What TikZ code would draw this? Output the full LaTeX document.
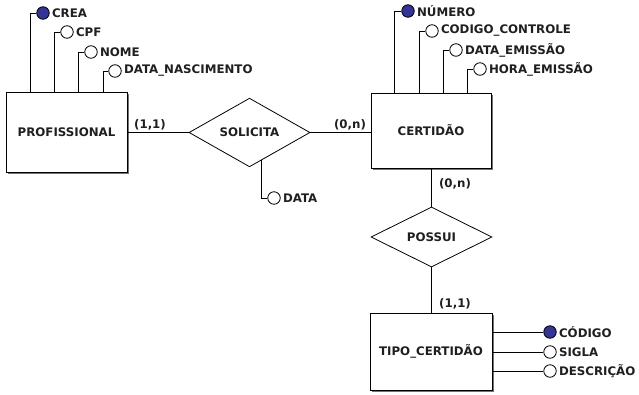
\documentclass[tikz,border=0pt]{standalone}
\usepackage{fontspec}
\setmainfont{DejaVu Sans}
\usepackage{tikz}
\usetikzlibrary{positioning,calc,shapes.geometric,shadows}

\begin{document}
\begin{tikzpicture}[x=1pt,y=-1pt,font=\fontsize{11.8}{13}\selectfont\bfseries,
 entity/.style={draw,fill=white,line width=0.9pt,inner sep=2pt,
   drop shadow={shadow xshift=1.6pt,shadow yshift=-1.6pt,opacity=1,fill=black!55}},
 rel/.style={draw,diamond,fill=white,line width=0.8pt,inner sep=0pt,minimum width=121pt,minimum height=61pt},
 attr/.style={draw,circle,fill=white,line width=0.8pt,inner sep=0pt,minimum size=12.5pt},
 key/.style={attr,fill=keyblue},
 lbl/.style={inner sep=2pt,text=black!88},
 card/.style={inner sep=1pt,text=black!88},
 every path/.style={line width=0.8pt}]
\definecolor{keyblue}{RGB}{52,52,150}
\useasboundingbox (0,0) rectangle (639,394);
% entities and relationships
\node[entity,minimum width=121pt,minimum height=80pt,text=black!88] (prof) at (66.5,132) {PROFISSIONAL};
\node[entity,minimum width=120pt,minimum height=75pt,text=black!88] (cert) at (431,130.5) {CERTIDÃO};
\node[entity,minimum width=122pt,minimum height=77pt,text=black!88] (tipo) at (431,351.5) {TIPO\_CERTIDÃO};
\node[rel,text=black!88] (soli) at (249.5,132.5) {SOLICITA};
\node[rel,minimum height=60pt,text=black!88] (poss) at (431.5,237) {POSSUI};
% attributes of PROFISSIONAL
\node[key] (crea) at (43,13) {};
\node[lbl,right=0pt of crea] (creaT) {CREA};
\node[attr] (cpf) at (67,32) {};
\node[lbl,right=0pt of cpf] (cpfT) {CPF};
\node[attr] (nome) at (91,52) {};
\node[lbl,right=0pt of nome] (nomeT) {NOME};
\node[attr] (nasc) at (115,71) {};
\node[lbl,right=0pt of nasc] (nascT) {DATA\_NASCIMENTO};
% attributes of CERTIDÃO
\node[key] (num) at (408,11) {};
\node[lbl,right=0pt of num] (numT) {NÚMERO};
\node[attr] (ctrl) at (432,31) {};
\node[lbl,right=0pt of ctrl] (ctrlT) {CODIGO\_CONTROLE};
\node[attr] (demi) at (456,50) {};
\node[lbl,right=0pt of demi] (demiT) {DATA\_EMISSÃO};
\node[attr] (hemi) at (480,69) {};
\node[lbl,right=0pt of hemi] (hemiT) {HORA\_EMISSÃO};
% attribute of SOLICITA
\node[attr] (data) at (274,198) {};
\node[lbl,right=0pt of data] (dataT) {DATA};
% attributes of TIPO_CERTIDÃO
\node[key] (cod) at (550,332) {};
\node[lbl,right=0pt of cod] (codT) {CÓDIGO};
\node[attr] (sig) at (550,352) {};
\node[lbl,right=0pt of sig] (sigT) {SIGLA};
\node[attr] (desc) at (550,371) {};
\node[lbl,right=0pt of desc] (descT) {DESCRIÇÃO};
% cardinalities
\node[card] (c11a) at (150,125) {(1,1)};
\node[card] (c0na) at (350,125) {(0,n)};
\node[card] (c0nb) at (455,184) {(0,n)};
\node[card] (c11b) at (455,304) {(1,1)};
% connectors
\draw (soli.west -| prof.east) -- (soli.west);
\draw (soli.east) -- (soli.east -| cert.west);
\draw (poss.north |- cert.south) -- (poss.north);
\draw (poss.south) -- (poss.south |- tipo.north);
\draw ($(prof.north west)!0.2!(prof.north east)$) |- (crea.west);
\draw ($(prof.north west)!0.4!(prof.north east)$) |- (cpf.west);
\draw ($(prof.north west)!0.6!(prof.north east)$) |- (nome.west);
\draw ($(prof.north west)!0.8!(prof.north east)$) |- (nasc.west);
\draw ($(cert.north west)!0.2!(cert.north east)$) |- (num.west);
\draw ($(cert.north west)!0.4!(cert.north east)$) |- (ctrl.west);
\draw ($(cert.north west)!0.6!(cert.north east)$) |- (demi.west);
\draw ($(cert.north west)!0.8!(cert.north east)$) |- (hemi.west);
\draw ($(soli.south)!0.2!(soli.east)$) |- (data.west);
\draw (cod.west -| tipo.east) -- (cod.west);
\draw (sig.west -| tipo.east) -- (sig.west);
\draw (desc.west -| tipo.east) -- (desc.west);
\end{tikzpicture}
\end{document}
